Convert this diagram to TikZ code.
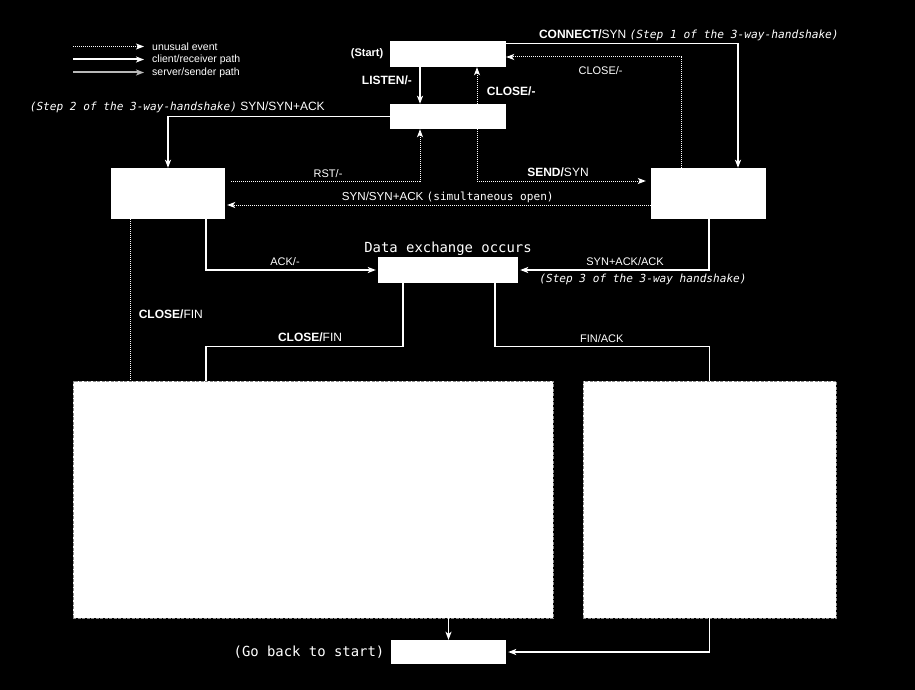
\documentclass[tikz,border=0pt]{standalone}
\usepackage{fontspec}
\setmainfont{Liberation Sans}
\newfontfamily\monofont{DejaVu Sans Mono}
\usetikzlibrary{arrows.meta,positioning}

\definecolor{srvgray}{gray}{0.72}
\definecolor{boxedge}{gray}{0.55}

\begin{document}
\begin{tikzpicture}[x=1pt, y=-1pt,
    >={Stealth[length=8pt,width=6pt,inset=2pt]},
    state/.style={fill=white, inner sep=0pt},
    bigstate/.style={fill=white, draw=boxedge, line width=0.8pt, dash pattern=on 3pt off 1.5pt, inner sep=0pt},
    client/.style={->, white, line width=1.4pt},
    plain/.style={white, line width=1.4pt},
    unusual/.style={->, white, line width=1pt, dash pattern=on 1pt off 1pt},
    lbl/.style={text=white, font=\fontsize{11}{13}\selectfont},
    blbl/.style={text=white, font=\fontsize{12}{14}\selectfont},
    mono/.style={text=white, font=\fontsize{11.1}{13}\monofont},
    bigmono/.style={text=white, font=\fontsize{13.9}{16}\monofont}]

    % background and page size
    \fill[black] (0,0) rectangle (915,690);

    % === Legend ===
    \node[lbl, font=\fontsize{10.5}{12}\selectfont, anchor=west, inner sep=0pt] (legU) at (152,46.5) {unusual event};
    \node[lbl, font=\fontsize{10.5}{12}\selectfont, anchor=west, inner sep=0pt] (legC) at (152,59.5) {client/receiver path};
    \node[lbl, font=\fontsize{10.5}{12}\selectfont, anchor=west, inner sep=0pt] (legS) at (152,72.5) {server/sender path};
    \draw[unusual] ([xshift=-79]legU.west) -- ([xshift=-8]legU.west);
    \draw[client, line width=2pt] ([xshift=-79]legC.west) -- ([xshift=-8]legC.west);
    \draw[->, srvgray, line width=2pt] ([xshift=-79]legS.west) -- ([xshift=-8]legS.west);

    % === States ===
    \node[state, minimum width=116, minimum height=26] (closed) at (448,54) {};
    \node[state, minimum width=116, minimum height=25] (listen) at (448,116.5) {};
    \node[state, minimum width=114, minimum height=51] (synrcvd) at (168,193.5) {};
    \node[state, minimum width=115, minimum height=51] (synsent) at (708.5,193.5) {};
    \node[state, minimum width=140, minimum height=26] (estab) at (448,270) {};
    \node[bigstate, minimum width=480, minimum height=237] (finleft) at (313,499.5) {};
    \node[bigstate, minimum width=253, minimum height=237] (finright) at (709.5,499.5) {};
    \node[state, minimum width=115, minimum height=24] (closedend) at (448.5,652) {};

    \node[blbl, font=\fontsize{11}{13}\bfseries, left=3pt of closed] (startlbl) {(Start)};
    \node[bigmono, above=-2pt of estab] (datalbl) {Data exchange occurs};
    \node[bigmono, left=3pt of closedend] (backlbl) {(Go back to start)};

    % === Opening ===
    \draw[client] ([xshift=-28]closed.south) -- node[pos=0.35, blbl, left=4pt] {\bfseries LISTEN/-} ([xshift=-28]listen.north);
    \draw[unusual] ([xshift=29]listen.north) -- node[pos=0.35, blbl, right=6pt] {\bfseries CLOSE/-} ([xshift=29]closed.south);
    \draw[client] ([yshift=-3]closed.north east) -| node[pos=0.065, above right, inner sep=2pt, blbl] {{\bfseries CONNECT/}SYN {\fontsize{11.2}{13}\monofont\itshape (Step 1 of the 3-way-handshake)}} ([xshift=29.5]synsent.north);
    \draw[unusual] ([xshift=-27.5]synsent.north) |- node[pos=0.73, below=6pt, lbl] {CLOSE/-} ([yshift=-3]closed.east);
    \draw[client] (listen.west) -| node[pos=0.479, above, blbl] {{\fontsize{11.1}{13}\monofont\itshape (Step 2 of the 3-way-handshake)} SYN/SYN+ACK} (synrcvd.north);
    \draw[unusual, shorten <=6pt] ([yshift=12.5]synrcvd.east) -| node[pos=0.264, above, lbl] {RST/-} ([xshift=-28]listen.south);
    \draw[unusual, shorten >=5pt] ([xshift=29]listen.south) |- node[pos=0.733, above, blbl] {{\bfseries SEND/}SYN} ([yshift=12.5]synsent.west);
    \draw[unusual, shorten >=2pt] ([yshift=-11.5]synsent.west) -- node[pos=0.477, above, inner sep=1.5pt, lbl, font=\fontsize{11.6}{13}\selectfont] {SYN/SYN+ACK {\fontsize{11.1}{13}\monofont (simultaneous open)}} ([yshift=-11.5]synrcvd.east);
    \draw[client, shorten >=2pt] ([xshift=38]synrcvd.south) |- node[pos=0.73, above, inner sep=4pt, lbl] {ACK/-} (estab.west);
    \draw[client, shorten >=2pt] ([xshift=0.5]synsent.south) |- node[pos=0.72, above, lbl] {SYN+ACK/ACK}
        node[pos=0.673, below, mono, font=\fontsize{11.1}{13}\monofont\itshape] {(Step 3 of the 3-way handshake)} (estab.east);

    % === Closing ===
    \draw[plain] ([xshift=-45]estab.south) -- ++(0,63) -| node[pos=0.236, above, blbl] {{\bfseries CLOSE/}FIN} ([xshift=-107]finleft.north);
    \draw[unusual, -] ([xshift=-38]synrcvd.south) -- node[pos=0.586, right=5pt, blbl] {{\bfseries CLOSE/}FIN} ([xshift=-38]synrcvd.south |- finleft.north);
    \draw[plain] ([xshift=47]estab.south) -- ++(0,63) -| node[pos=0.249, above, lbl] {FIN/ACK} (finright.north);
    \draw[client] (finleft.south -| closedend.north) -- (closedend.north);
    \draw[client, shorten >=2pt] (finright.south) |- (closedend.east);

\end{tikzpicture}
\end{document}
